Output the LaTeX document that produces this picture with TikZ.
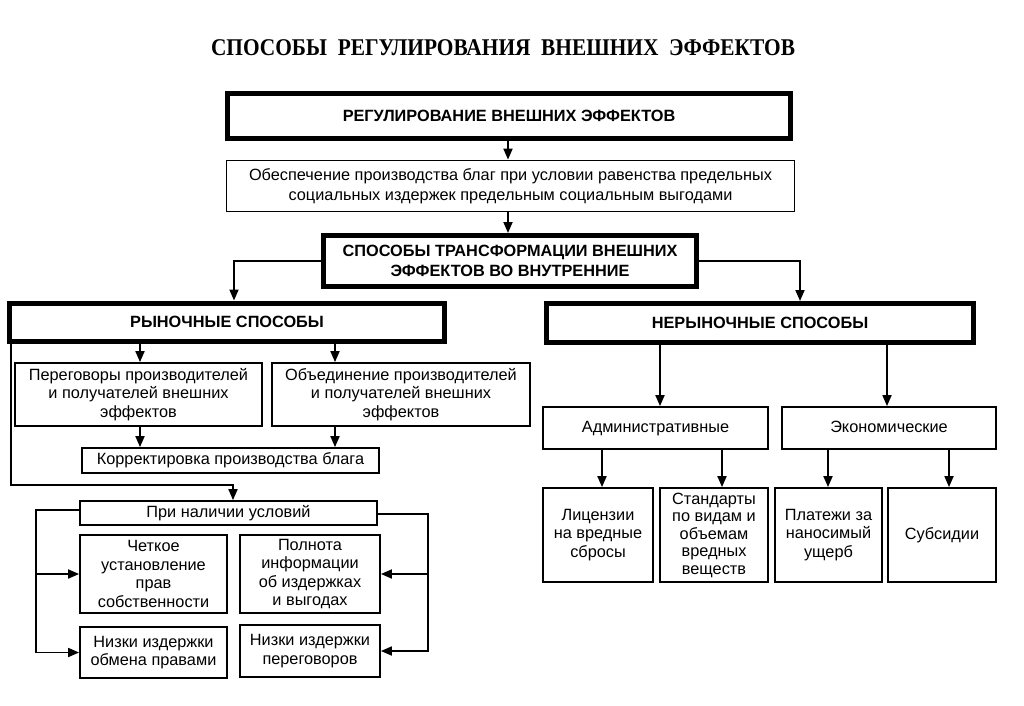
\documentclass[tikz,border=0pt]{standalone}
\usepackage{fontspec}
\setmainfont{Liberation Sans}
\newfontfamily\titlefont{Liberation Serif}
\usetikzlibrary{arrows.meta}
\begin{document}
\begin{tikzpicture}[x=1pt,y=-1pt,
  box/.style={draw, line width=1.8pt, align=center, inner sep=1pt, font=\fontsize{16.3}{18.5}\selectfont},
  hbox/.style={draw, line width=5pt, align=center, inner sep=1pt, font=\bfseries\fontsize{16.3}{20}\selectfont},
  oneline/.style={text height=11.7pt, text depth=3.5pt},
  arr/.style={line width=1.8pt, -{Triangle[length=11pt,width=9pt]}},
  ln/.style={line width=1.8pt}]
\useasboundingbox[fill=white] (0,0) rectangle (1024,705);
% title
\node[font=\titlefont\bfseries\fontsize{24}{26}\selectfont] (title) at (503,48) {\scalebox{0.89}[1]{СПОСОБЫ\ \ РЕГУЛИРОВАНИЯ\ \ ВНЕШНИХ\ \ ЭФФЕКТОВ}};
% top chain
\node[hbox, minimum width=563, minimum height=45] (reg) at (509,116) {РЕГУЛИРОВАНИЕ ВНЕШНИХ ЭФФЕКТОВ};
\node[box, minimum width=568, minimum height=51, font=\fontsize{16.3}{20}\selectfont] (obesp) at (510.5,186) {Обеспечение производства благ при условии равенства предельных\\социальных издержек предельным социальным выгодами};
\node[hbox, minimum width=373, minimum height=51] (sposob) at (510,261) {СПОСОБЫ ТРАНСФОРМАЦИИ ВНЕШНИХ\\ЭФФЕКТОВ ВО ВНУТРЕННИЕ};
\node[hbox, minimum width=435, minimum height=38] (rynok) at (227,322) {РЫНОЧНЫЕ СПОСОБЫ};
\node[hbox, minimum width=427, minimum height=39] (nerynok) at (760,323) {НЕРЫНОЧНЫЕ СПОСОБЫ};
% market branch
\node[box, minimum width=247, minimum height=63] (pereg) at (138.5,394.5) {Переговоры производителей\\и получателей внешних\\эффектов};
\node[box, minimum width=258, minimum height=63] (obed) at (401,394.5) {Объединение производителей\\и получателей внешних\\эффектов};
\node[box, oneline, minimum width=297, minimum height=25] (korr) at (230.5,460.5) {Корректировка производства блага};
\node[box, oneline, minimum width=297, minimum height=24] (pri) at (228.5,513) {При наличии условий};
\node[box, minimum width=147, minimum height=78] (chet) at (153.5,574) {Четкое\\установление\\прав\\собственности};
\node[box, minimum width=140, minimum height=78] (poln) at (310,574) {Полнота\\информации\\об издержках\\и выгодах};
\node[box, minimum width=147, minimum height=51] (niz1) at (153.5,652.5) {Низки издержки\\обмена правами};
\node[box, minimum width=140, minimum height=52] (niz2) at (310,651) {Низки издержки\\переговоров};
% non-market branch
\node[box, oneline, minimum width=225, minimum height=42] (admin) at (655.5,428) {Административные};
\node[box, oneline, minimum width=214, minimum height=42] (econ) at (889,428) {Экономические};
\node[box, minimum width=110, minimum height=94] (lic) at (598,535) {Лицензии\\на вредные\\сбросы};
\node[box, minimum width=108, minimum height=94, font=\fontsize{16.3}{17.5}\selectfont] (stan) at (714,535) {Стандарты\\по видам и\\объемам\\вредных\\веществ};
\node[box, minimum width=107, minimum height=94] (plat) at (828.5,535) {Платежи за\\наносимый\\ущерб};
\node[box, oneline, minimum width=108, minimum height=94] (sub) at (942,535) {Субсидии};
% column coordinates
\coordinate (c233) at (234,0);
\coordinate (c800) at (800,0);
\coordinate (c140) at (140,0);
\coordinate (c335) at (335,0);
\coordinate (c10) at (11,0);
\coordinate (turn) at (233,485);
\coordinate (lx) at (36,0);
\coordinate (rx) at (428,0);
\coordinate (c660) at (660,0);
\coordinate (c887) at (887,0);
\coordinate (c602) at (602,0);
\coordinate (c722) at (722,0);
\coordinate (c828) at (828,0);
\coordinate (c949) at (949,0);
\coordinate (c508) at (508,0);
% connectors
\draw[arr] (reg.south -| c508) -- (obesp.north -| c508);
\draw[arr] (obesp.south -| c508) -- (sposob.north -| c508);
\draw[arr] (sposob.west) -| (rynok.north -| c233);
\draw[arr] (sposob.east) -| (nerynok.north -| c800);
\draw[arr] (rynok.south -| c140) -- (pereg.north -| c140);
\draw[arr] (rynok.south -| c335) -- (obed.north -| c335);
\draw[arr] (pereg.south -| c140) -- (korr.north -| c140);
\draw[arr] (obed.south -| c335) -- (korr.north -| c335);
\draw[arr] (rynok.south -| c10) |- (turn) -- (turn |- pri.north);
\draw[arr] ([yshift=3]pri.west) -| (lx |- niz1.west) -- (niz1.west);
\draw[arr] (lx |- chet.west) -- (chet.west);
\draw[arr] ([yshift=-1]pri.east) -| (rx |- niz2.east) -- (niz2.east);
\draw[arr] (rx |- poln.east) -- (poln.east);
\draw[arr] (nerynok.south -| c660) -- (admin.north -| c660);
\draw[arr] (nerynok.south -| c887) -- (econ.north -| c887);
\draw[arr] (admin.south -| c602) -- (lic.north -| c602);
\draw[arr] (admin.south -| c722) -- (stan.north -| c722);
\draw[arr] (econ.south -| c828) -- (plat.north -| c828);
\draw[arr] (econ.south -| c949) -- (sub.north -| c949);
\end{tikzpicture}
\end{document}
